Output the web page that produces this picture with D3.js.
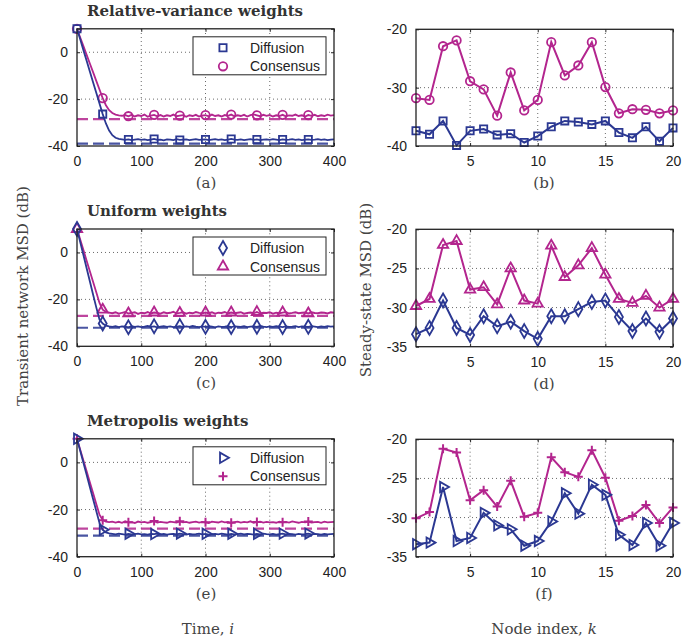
<!DOCTYPE html>
<html lang="en">
<head>
<meta charset="UTF-8">
<title>MSD weights</title>
<script src="https://d3js.org/d3.v7.min.js"></script>
<style>
    body { margin: 0; background: #fff; }
    .tick text { font: 14px "Liberation Sans", Arial, sans-serif; fill: #222; }
    .tick line { stroke: #222; stroke-width: 1px; }
    .grid { stroke: #444; stroke-width: 0.8px; stroke-dasharray: 1,3; }
    .frame { fill: none; stroke: #222; stroke-width: 1.3px; }
    .title { font: bold 15px "DejaVu Serif", serif; fill: #333; }
    .lbl { font: 15px "DejaVu Serif", serif; fill: #444; }
    .legend text { font: 14px "Liberation Sans", Arial, sans-serif; fill: #222; }
</style>
</head>
<body>
<div id="chart"></div>
<script>
"use strict";

var blue = "#2b3892";
var magenta = "#b3258e";

// transient MSD (dB), sampled every 5 iterations from i=0 to i=400
var relVarDiffusion = [10,5.5,0.9,-3.6,-8.2,-12.8,-17.3,-21.9,-26.4,-30.4,-33.4,-35.4,-36.5,-37.0,-37.2,
    -37.4,-37.2,-37.5,-37.3,-37.1,-37.4,-37.2,-37.5,-37.3,-37.0,
    -37.4,-37.3,-37.6,-37.2,-37.3,-37.5,-37.1,-37.4,-37.3,-37.2,
    -37.5,-37.3,-37.1,-37.4,-37.3,-37.2,-37.5,-37.3,-37.1,-37.4,
    -37.2,-37.5,-37.3,-37.0,-37.3,-37.4,-37.2,-37.5,-37.3,-37.1,
    -37.4,-37.2,-37.5,-37.3,-37.2,-37.4,-37.1,-37.3,-37.5,-37.2,
    -37.4,-37.3,-37.1,-37.4,-37.2,-37.5,-37.3,-37.2,-37.4,-37.3,
    -37.1,-37.4,-37.2,-37.5,-37.3,-37.2];
var relVarConsensus = [10,6.3,2.6,-1.1,-4.8,-8.5,-12.2,-15.9,-19.6,-22.6,-24.7,-25.9,-26.6,-26.9,-27.1,
    -26.8,-27.3,-26.7,-27.4,-26.9,-27.2,-26.6,-27.5,-27.0,-26.7,
    -27.3,-26.8,-27.4,-26.9,-27.2,-26.6,-27.3,-27.0,-26.8,-27.5,
    -26.9,-27.2,-26.7,-27.4,-27.0,-26.8,-27.3,-26.6,-27.2,-26.9,
    -27.4,-26.8,-27.1,-26.6,-27.3,-26.9,-27.2,-26.7,-27.4,-26.8,
    -26.5,-26.9,-27.3,-26.7,-27.1,-26.8,-27.4,-26.9,-27.2,-26.7,
    -27.3,-26.9,-27.1,-26.6,-27.2,-26.9,-27.4,-26.8,-27.1,-26.7,
    -27.3,-26.9,-27.2,-26.6,-27.0,-26.8];
var uniformDiffusion = [10,4.4,-1.1,-6.7,-12.3,-17.9,-23.4,-28.6,-30.3,-31.2,-31.5,
    -31.7,-31.4,-31.8,-31.5,-31.6,-31.9,-31.4,-31.7,-31.5,-31.8,
    -31.6,-31.3,-31.7,-31.5,-31.9,-31.6,-31.4,-31.7,-31.5,-31.8,
    -31.6,-31.4,-31.8,-31.5,-31.7,-31.3,-31.6,-31.8,-31.5,-31.7,
    -31.4,-31.6,-31.9,-31.5,-31.7,-31.6,-31.4,-31.8,-31.5,-31.6,
    -31.7,-31.4,-31.8,-31.6,-31.5,-31.7,-31.3,-31.6,-31.8,-31.5,
    -31.7,-31.4,-31.6,-31.8,-31.5,-31.7,-31.6,-31.4,-31.8,-31.5,
    -31.6,-31.7,-31.4,-31.6,-31.8,-31.5,-31.7,-31.4,-31.6,-31.5];
var uniformConsensus = [10,5.5,1.0,-3.5,-8.0,-12.5,-17.0,-21.5,-24.4,-25.3,-25.6,
    -25.9,-25.5,-26.1,-25.7,-25.4,-26.0,-25.8,-25.5,-26.2,-25.7,
    -25.9,-25.4,-26.0,-25.6,-25.8,-26.1,-25.5,-25.9,-25.7,-25.3,
    -26.0,-25.8,-25.5,-26.1,-25.7,-25.9,-25.4,-25.8,-26.0,-25.6,
    -25.9,-25.5,-26.1,-25.7,-25.8,-25.4,-26.0,-25.6,-25.9,-25.7,
    -25.5,-26.1,-25.8,-25.6,-25.9,-25.4,-26.0,-25.7,-25.8,-25.5,
    -26.1,-25.7,-25.9,-25.6,-25.4,-26.0,-25.8,-25.5,-25.9,-25.7,
    -25.6,-26.0,-25.5,-25.8,-25.9,-25.6,-25.7,-26.0,-25.5,-25.7];
var metroDiffusion = [10,4.9,-0.2,-5.3,-10.4,-15.5,-20.6,-25.7,-28.6,-29.7,-30.1,
    -30.3,-30.5,-30.2,-30.4,-30.6,-30.3,-30.5,-30.4,-30.2,-30.5,
    -30.4,-30.6,-30.3,-30.4,-30.2,-30.5,-30.3,-30.6,-30.4,-30.3,
    -30.5,-30.2,-30.4,-30.6,-30.3,-30.5,-30.4,-30.2,-30.5,-30.3,
    -30.6,-30.4,-30.3,-30.5,-30.2,-30.4,-30.6,-30.3,-30.5,-30.4,
    -30.2,-30.5,-30.3,-30.4,-30.6,-30.3,-30.5,-30.2,-30.4,-30.5,
    -30.3,-30.6,-30.4,-30.2,-30.5,-30.3,-30.4,-30.6,-30.3,-30.5,
    -30.4,-30.2,-30.5,-30.3,-30.4,-30.6,-30.3,-30.5,-30.4,-30.3];
var metroConsensus = [10,5.4,0.8,-3.8,-8.4,-13.0,-17.6,-22.2,-24.5,-25.1,-25.3,
    -25.1,-25.5,-25.2,-25.6,-25.0,-25.4,-25.3,-25.7,-25.1,-25.4,
    -25.2,-25.6,-25.3,-24.9,-25.5,-25.2,-25.4,-25.6,-25.1,-25.3,
    -25.5,-25.0,-25.4,-25.2,-25.6,-25.3,-25.1,-25.5,-25.2,-25.4,
    -25.7,-25.1,-25.3,-25.5,-25.0,-25.4,-25.2,-25.6,-25.3,-25.1,
    -25.5,-25.2,-25.4,-25.0,-25.6,-25.3,-25.1,-25.5,-25.2,-25.4,
    -25.3,-25.6,-25.1,-25.4,-25.2,-25.5,-25.0,-25.3,-25.6,-25.2,
    -25.4,-25.1,-25.5,-25.3,-25.2,-25.6,-25.1,-25.4,-25.3,-25.2];

// theoretical steady-state levels (dashed)
var relVarTheory = { diffusion: -39.0, consensus: -28.5 };
var uniformTheory = { diffusion: -32.1, consensus: -27.0 };
var metroTheory = { diffusion: -31.1, consensus: -28.1 };

// steady-state MSD per node (dB), k = 1..20
var nodeRelVarDiff = [-37.4,-38.0,-35.7,-39.9,-37.4,-37.1,-38.1,-37.9,-39.4,-38.3,-36.7,-35.7,-35.9,-36.3,-35.7,-37.7,-38.6,-36.7,-39.2,-36.9];
var nodeRelVarCons = [-31.8,-32.1,-22.9,-21.9,-28.9,-30.3,-34.8,-27.4,-33.9,-32.1,-22.2,-27.9,-26.2,-22.2,-29.9,-34.4,-33.7,-33.8,-34.4,-33.9];
var nodeUniformDiff = [-33.4,-32.6,-29.1,-32.6,-33.5,-31.1,-32.4,-31.8,-33.0,-34.0,-31.1,-31.1,-30.2,-29.3,-29.1,-31.2,-33.0,-31.4,-33.1,-31.4];
var nodeUniformCons = [-29.8,-28.9,-22.0,-21.5,-27.7,-27.4,-29.6,-25.0,-29.1,-29.5,-22.1,-26.1,-24.6,-22.4,-25.8,-28.9,-29.4,-28.5,-30.0,-28.9];
var nodeMetroDiff = [-33.4,-33.2,-26.1,-33.0,-32.6,-29.4,-31.0,-31.5,-33.6,-33.0,-30.5,-26.9,-29.5,-25.8,-27.1,-32.2,-33.5,-30.7,-33.6,-30.7];
var nodeMetroCons = [-30.1,-29.3,-21.2,-21.7,-27.8,-26.5,-28.6,-25.3,-29.9,-29.4,-22.3,-24.2,-24.8,-21.4,-24.9,-30.4,-29.8,-28.4,-30.7,-28.7];

var timeTicks = [0, 100, 200, 300, 400];
var transientTicks = [10, 0, -20, -40];
var nodeTicks = [5, 10, 15, 20];
var steadyTicksB = [-20, -30, -40];
var steadyTicksDF = [-20, -25, -30, -35];

var svg = d3.select("#chart").append("svg")
    .attr("width", 699).attr("height", 643);

function markerPath(kind) {
    if (kind === "square") return d3.symbol(d3.symbolSquare, 52)();
    if (kind === "circle") return d3.symbol(d3.symbolCircle, 56)();
    if (kind === "diamond") return d3.symbol(d3.symbolDiamond, 56)();
    if (kind === "triangle") return d3.symbol(d3.symbolTriangle, 46)();
    if (kind === "tright") return d3.symbol(d3.symbolTriangle, 46)();
    if (kind === "plus") return "M-4.5,0H4.5M0,-4.5V4.5";
}

function drawMarkers(g, pts, kind, color) {
    g.selectAll(null).data(pts).enter().append("path")
        .attr("d", markerPath(kind))
        .attr("transform", function (d) {
            return "translate(" + d[0] + "," + d[1] + ")" + (kind === "tright" ? " rotate(90)" : "");
        })
        .attr("fill", "none")
        .attr("stroke", color)
        .attr("stroke-width", kind === "plus" ? 2 : 1.8);
}

function frameAxes(g, x, y, xTicks, yTicks, xLabels, yLabels, xGrid, yGrid) {
    var r = x.range(), b = y.range();
    g.selectAll(null).data(xGrid).enter().append("line").attr("class", "grid")
        .attr("x1", function (d) { return x(d); }).attr("x2", function (d) { return x(d); })
        .attr("y1", b[0]).attr("y2", b[1]);
    g.selectAll(null).data(yGrid).enter().append("line").attr("class", "grid")
        .attr("x1", r[0]).attr("x2", r[1])
        .attr("y1", function (d) { return y(d); }).attr("y2", function (d) { return y(d); });

    var ax = [
        d3.axisBottom(x).tickValues(xTicks).tickSize(-3).tickPadding(10),
        d3.axisTop(x).tickValues(xTicks).tickSize(-3).tickFormat(""),
        d3.axisLeft(y).tickValues(yTicks).tickSize(-3).tickPadding(9),
        d3.axisRight(y).tickValues(yTicks).tickSize(-3).tickFormat("")
    ];
    var pos = ["translate(0," + b[0] + ")", "translate(0," + b[1] + ")",
        "translate(" + r[0] + ",0)", "translate(" + r[1] + ",0)"];
    ax.forEach(function (a, i) {
        var ag = g.append("g").attr("transform", pos[i]).call(a);
        ag.select(".domain").remove();
        if (i === 0) ag.selectAll("text").text(function (d) { return xLabels.indexOf(d) >= 0 ? d : ""; });
        if (i === 2) ag.selectAll("text").text(function (d) { return yLabels.indexOf(d) >= 0 ? d : ""; });
    });
}

function drawTransient(cfg) {
    var g = svg.append("g");
    var x = d3.scaleLinear().domain([0, 400]).range([77, 334]);
    var y = d3.scaleLinear().domain([-40, 10]).range([cfg.bottom, cfg.top]);
    frameAxes(g, x, y, timeTicks, transientTicks, timeTicks, [0, -20, -40], [100, 200, 300], [0, -20]);

    var series = [
        { vals: cfg.cons, theory: cfg.theory.consensus, color: magenta, marker: cfg.consMarker },
        { vals: cfg.diff, theory: cfg.theory.diffusion, color: blue, marker: cfg.diffMarker }
    ];
    series.forEach(function (s) {
        g.append("line")
            .attr("x1", x(0)).attr("x2", x(400))
            .attr("y1", y(s.theory)).attr("y2", y(s.theory))
            .attr("stroke", s.color).attr("stroke-width", 2.2).attr("opacity", 0.85)
            .attr("stroke-dasharray", "11,5");
    });
    series.forEach(function (s) {
        var line = d3.line().x(function (d, i) { return x(i * 5); }).y(function (d) { return y(d); });
        g.append("path").datum(s.vals).attr("d", line)
            .attr("fill", "none").attr("stroke", s.color).attr("stroke-width", 1.8);
        var pts = [];
        s.vals.forEach(function (v, i) {
            if ((i * 5) % 40 === 0 && i * 5 < 400) pts.push([x(i * 5), y(v)]);
        });
        drawMarkers(g, pts, s.marker, s.color);
    });

    g.append("rect").attr("class", "frame")
        .attr("x", 77).attr("y", cfg.top).attr("width", 257).attr("height", cfg.bottom - cfg.top);

    // legend
    var lg = g.append("g").attr("class", "legend").attr("transform", "translate(193," + (cfg.top + 8) + ")");
    lg.append("rect").attr("width", 133).attr("height", 38)
        .attr("fill", "#fff").attr("stroke", "#222").attr("stroke-width", 1);
    [["Diffusion", blue, cfg.diffMarker, 11], ["Consensus", magenta, cfg.consMarker, 29.5]].forEach(function (e) {
        drawMarkers(lg, [[30, e[3]]], e[2], e[1]);
        lg.append("text").attr("x", 57).attr("y", e[3] + 5).text(e[0]);
    });

    svg.append("text").attr("class", "title").attr("x", 87).attr("y", cfg.titleY).text(cfg.title);
    svg.append("text").attr("class", "lbl").attr("x", 206).attr("y", cfg.bottom + 42)
        .attr("text-anchor", "middle").text(cfg.tag);
}

function drawSteady(cfg) {
    var g = svg.append("g");
    var x = d3.scaleLinear().domain([1, 20]).range([416, 673]);
    var y = d3.scaleLinear().domain(cfg.domain).range([cfg.bottom, cfg.top]);
    var ticks = cfg.ticks;
    frameAxes(g, x, y, nodeTicks, ticks, nodeTicks, ticks, [5, 10, 15], ticks.slice(1, -1));

    var line = d3.line().x(function (d, i) { return x(i + 1); }).y(function (d) { return y(d); });
    [[cfg.cons, magenta, cfg.consMarker], [cfg.diff, blue, cfg.diffMarker]].forEach(function (s) {
        g.append("path").datum(s[0]).attr("d", line)
            .attr("fill", "none").attr("stroke", s[1]).attr("stroke-width", 2);
        drawMarkers(g, s[0].map(function (v, i) { return [x(i + 1), y(v)]; }), s[2], s[1]);
    });

    g.append("rect").attr("class", "frame")
        .attr("x", 416).attr("y", cfg.top).attr("width", 257).attr("height", cfg.bottom - cfg.top);

    svg.append("text").attr("class", "lbl").attr("x", 544).attr("y", cfg.bottom + 42)
        .attr("text-anchor", "middle").text(cfg.tag);
}

drawTransient({ top: 28.8, bottom: 146, title: "Relative-variance weights", titleY: 16, tag: "(a)",
    diff: relVarDiffusion, cons: relVarConsensus, theory: relVarTheory, diffMarker: "square", consMarker: "circle" });
drawTransient({ top: 229, bottom: 346.3, title: "Uniform weights", titleY: 216, tag: "(c)",
    diff: uniformDiffusion, cons: uniformConsensus, theory: uniformTheory, diffMarker: "diamond", consMarker: "triangle" });
drawTransient({ top: 438.8, bottom: 556.7, title: "Metropolis weights", titleY: 426, tag: "(e)",
    diff: metroDiffusion, cons: metroConsensus, theory: metroTheory, diffMarker: "tright", consMarker: "plus" });

drawSteady({ top: 29.3, bottom: 146, domain: [-40, -20], ticks: steadyTicksB, tag: "(b)",
    diff: nodeRelVarDiff, cons: nodeRelVarCons, diffMarker: "square", consMarker: "circle" });
drawSteady({ top: 229.3, bottom: 346.7, domain: [-35, -20], ticks: steadyTicksDF, tag: "(d)",
    diff: nodeUniformDiff, cons: nodeUniformCons, diffMarker: "diamond", consMarker: "triangle" });
drawSteady({ top: 439.3, bottom: 556.7, domain: [-35, -20], ticks: steadyTicksDF, tag: "(f)",
    diff: nodeMetroDiff, cons: nodeMetroCons, diffMarker: "tright", consMarker: "plus" });

// shared axis labels
svg.append("text").attr("class", "lbl").attr("text-anchor", "middle")
    .attr("transform", "translate(28,296) rotate(-90)").text("Transient network MSD (dB)");
svg.append("text").attr("class", "lbl").attr("text-anchor", "middle")
    .attr("transform", "translate(371,290) rotate(-90)").text("Steady-state MSD (dB)");

var tl = svg.append("text").attr("class", "lbl").attr("text-anchor", "middle").attr("x", 208).attr("y", 634);
tl.append("tspan").text("Time, ");
tl.append("tspan").style("font-style", "italic").text("i");
var nl = svg.append("text").attr("class", "lbl").attr("text-anchor", "middle").attr("x", 544).attr("y", 634);
nl.append("tspan").text("Node index, ");
nl.append("tspan").style("font-style", "italic").text("k");
</script>
</body>
</html>
